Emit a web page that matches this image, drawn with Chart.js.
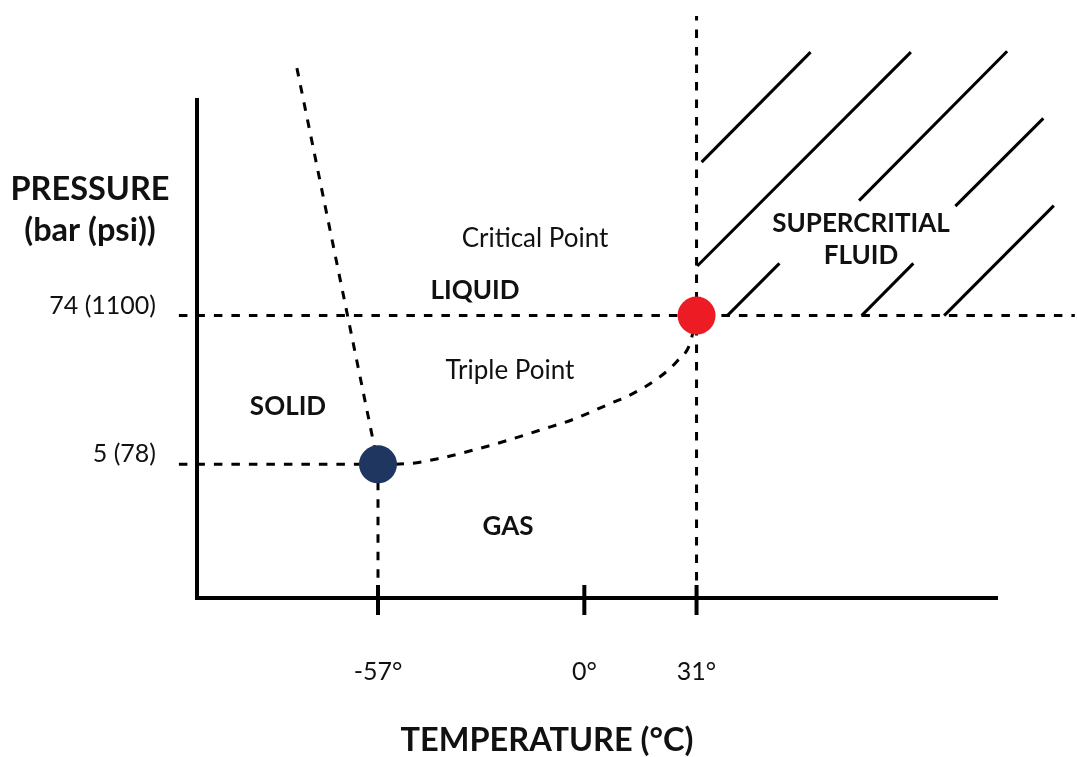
<!DOCTYPE html>
<html>
<head>
<meta charset="utf-8">
<title>CO2 phase diagram</title>
<script src="https://cdn.jsdelivr.net/npm/chart.js@4.4.1/dist/chart.umd.min.js"></script>
<style>
  body { margin: 0; background: #fff; }
  canvas { display: block; }
</style>
</head>
<body>
<canvas id="phase" width="1077" height="757"></canvas>
<script>
// temperature in degC, pressure in bar (schematic diagram)
const tempTicks = [-57, 0, 31];
const tempTickLabels = ["-57°", "0°", "31°"];
const pressureTicks = [5, 74];
const pressureTickLabels = ["5 (78)", "74 (1100)"];

const triplePoint = [{ x: -57, y: 5 }];
const criticalPoint = [{ x: 31, y: 74 }];

// vapour pressure curve, triple point -> critical point
const vapourT = [-57, -49, -39.9, -30.7, -21.4, -12.2, -3, 6.2, 13.5, 20.9, 25.5, 29.2, 31];
const vapourP = [5, 5.3, 7.8, 11.6, 16, 20.9, 25.9, 32.5, 37.9, 45.6, 52.6, 61.1, 74];

// melting line, from the top of the plot down to the triple point
const meltT = [-79.4, -57];
const meltP = [188.8, 5];

// reference lines
const critPressureLine = [{ x: -112, y: 74 }, { x: 135.5, y: 74 }];
const triplePressureLine = [{ x: -112, y: 5 }, { x: -57, y: 5 }];
const critTempLine = [{ x: 31, y: -57 }, { x: 31, y: 213 }];
const tripleTempLine = [{ x: -57, y: 5 }, { x: -57, y: -57 }];

// hatching of the supercritical region (start, end)
const hatchFrom = [[32.4, 145.2], [31.2, 97], [75.9, 127.3], [102.5, 124.8], [39.5, 74], [76.6, 74], [99.4, 74]];
const hatchTo = [[62.5, 196.2], [90.2, 196.2], [116.8, 196.6], [126.8, 165.5], [53.9, 98.2], [90.9, 98.2], [129.7, 125]];

Chart.defaults.font.family = "Lato";
Chart.defaults.color = "#111";

const dashed = {
  showLine: true,
  borderColor: "#000",
  borderWidth: 3,
  borderDash: [8.5, 9],
  pointRadius: 0,
  clip: false,
};

const hatchSets = hatchFrom.map((a, i) => ({
  data: [{ x: a[0], y: a[1] }, { x: hatchTo[i][0], y: hatchTo[i][1] }],
  showLine: true,
  borderColor: "#000",
  borderWidth: 3,
  pointRadius: 0,
  clip: false,
}));

const textPlugin = {
  id: "phaseText",
  afterDraw(chart) {
    const ctx = chart.ctx;
    const area = chart.chartArea;
    const xs = chart.scales.x;
    ctx.save();
    // tick marks crossing the temperature axis
    ctx.strokeStyle = "#000";
    ctx.lineWidth = 4;
    tempTicks.forEach((v) => {
      const px = xs.getPixelForValue(v);
      ctx.beginPath();
      ctx.moveTo(px, area.bottom - 13);
      ctx.lineTo(px, area.bottom + 17);
      ctx.stroke();
    });

    ctx.fillStyle = "#111";
    ctx.textAlign = "center";
    ctx.textBaseline = "middle";

    ctx.font = "bold 32.5px Lato";
    ctx.fillText("PRESSURE", 90, 190);
    ctx.fillText("(bar (psi))", 90, 231);
    ctx.font = "bold 32.5px Lato";
    ctx.fillText("TEMPERATURE (°C)", 547, 741);

    ctx.font = "bold 26px Lato";
    ctx.fillText("LIQUID", 475, 291);
    ctx.fillText("SOLID", 288, 407);
    ctx.fillText("GAS", 508, 527);
    ctx.fillText("SUPERCRITIAL", 861, 224);
    ctx.fillText("FLUID", 861, 256);

    ctx.font = "26px Lato";
    ctx.fillText("Critical Point", 535, 239);
    ctx.fillText("Triple Point", 510, 371);
    ctx.restore();
  },
};

new Chart(document.getElementById("phase"), {
  type: "scatter",
  data: {
    datasets: [
      { data: criticalPoint, pointRadius: 19, pointHoverRadius: 19, pointBackgroundColor: "#ED1C24", pointBorderWidth: 0, clip: false },
      { data: triplePoint, pointRadius: 19, pointHoverRadius: 19, pointBackgroundColor: "#1F3660", pointBorderWidth: 0, clip: false },
      { ...dashed, data: vapourT.map((t, i) => ({ x: t, y: vapourP[i] })), cubicInterpolationMode: "monotone" },
      { ...dashed, data: meltT.map((t, i) => ({ x: t, y: meltP[i] })) },
      { ...dashed, data: critPressureLine },
      { ...dashed, data: triplePressureLine },
      { ...dashed, data: critTempLine },
      { ...dashed, data: tripleTempLine },
      ...hatchSets,
    ],
  },
  options: {
    responsive: false,
    animation: false,
    events: [],
    layout: { padding: { top: 100, right: 80, left: 0, bottom: 0 } },
    plugins: {
      legend: { display: false },
      tooltip: { enabled: false },
    },
    scales: {
      x: {
        type: "linear",
        min: -107,
        max: 114,
        afterFit: (s) => { s.height = 159; },
        afterBuildTicks: (s) => { s.ticks = tempTicks.map((v) => ({ value: v })); },
        grid: { display: false, drawTicks: false },
        border: { display: true, width: 4, color: "#000" },
        ticks: {
          autoSkip: false,
          maxRotation: 0,
          padding: 59,
          font: { size: 25 },
          callback: (v, i) => tempTickLabels[i],
        },
      },
      y: {
        type: "linear",
        min: -57,
        max: 174,
        afterFit: (s) => { s.width = 197; },
        afterBuildTicks: (s) => { s.ticks = pressureTicks.map((v) => ({ value: v })); },
        grid: { display: false, drawTicks: false },
        border: { display: true, width: 4, color: "#000" },
        ticks: {
          autoSkip: false,
          padding: 41,
          labelOffset: -10,
          font: { size: 25 },
          callback: (v, i) => pressureTickLabels[i],
        },
      },
    },
  },
  plugins: [textPlugin],
});
</script>
</body>
</html>
